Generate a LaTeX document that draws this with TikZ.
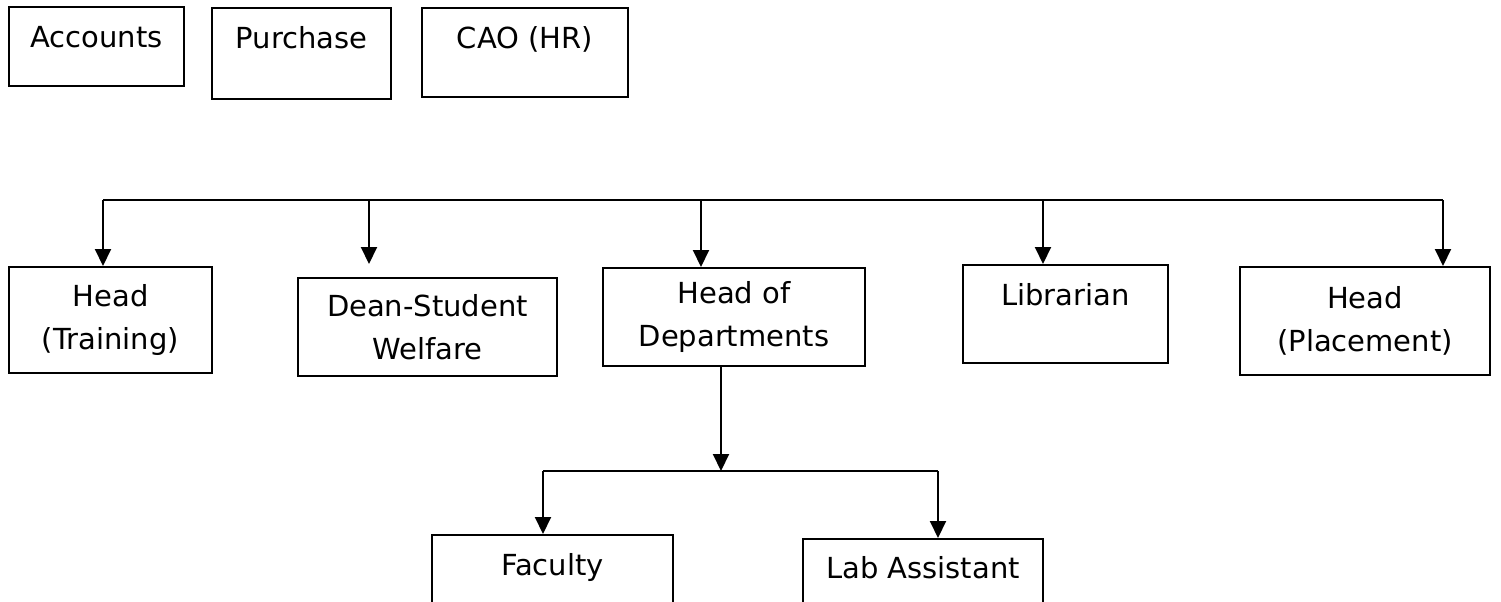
\documentclass[tikz,border=0pt]{standalone}
\usepackage{fontspec}
\setmainfont{DejaVu Sans}
\usetikzlibrary{arrows.meta}

\begin{document}
\begin{tikzpicture}[x=0.5pt,y=-0.5pt,
    box/.style={draw,line width=1pt,inner sep=0pt,align=center,
        font=\fontsize{14.5}{21.7}\selectfont},
    arr/.style={line width=1pt,-{Triangle[width=8pt,length=8.5pt]}},
    line/.style={line width=1pt}]
\clip (0,0) rectangle (1501,601);

% top row
\node[box,anchor=base,minimum width=87.5pt,text height=20pt,text depth=19.5pt] (acc) at (96.5,47) {Accounts};
\node[box,anchor=base,minimum width=89.5pt,text height=20pt,text depth=25.5pt] (pur) at (301.5,48) {Purchase};
\node[box,anchor=base,minimum width=103pt,text height=20pt,text depth=24.5pt] (cao) at (525,48) {CAO (HR)};

% middle row
\node[box,minimum width=101.5pt,minimum height=53pt] (tr) at (110.5,320) {Head\\(Training)};
\node[box,minimum width=129.5pt,minimum height=49pt] (dsw) at (427.5,327) {Dean-Student\\Welfare};
\node[box,minimum width=131pt,minimum height=49pt] (hod) at (734,317) {Head of\\Departments};
\node[box,anchor=base,minimum width=102.5pt,text height=20pt,text depth=29pt] (lib) at (1065.5,305) {Librarian};
\node[box,minimum width=125pt,minimum height=54pt] (pl) at (1365,321) {Head\\(Placement)};

% bottom row
\node[box,anchor=base,minimum width=120.5pt,text height=20pt,text depth=32.5pt] (fac) at (552.5,575) {Faculty};
\node[box,anchor=base,minimum width=120pt,text height=19.5pt,text depth=32pt] (lab) at (923,578) {Lab Assistant};

% bus
\coordinate (busL) at (103,200);
\coordinate (busR) at (1443,200);
\coordinate (b2) at (369,200);
\coordinate (b2end) at (369,264);
\coordinate (b3) at (701,200);
\coordinate (b4) at (1043,200);
\draw[line] (busL) -- (busR);
\draw[arr] (busL) -- (busL |- tr.north);
\draw[arr] (b2) -- (b2end);
\draw[arr] (b3) -- (b3 |- hod.north);
\draw[arr] (b4) -- (b4 |- lib.north);
\draw[arr] (busR) -- (busR |- pl.north);

% departments branch
\coordinate (split) at (721,471);
\coordinate (brL) at (543,471);
\coordinate (brR) at (938,471);
\draw[arr] (split |- hod.south) -- (split);
\draw[line] (brL) -- (brR);
\draw[arr] (brL) -- (brL |- fac.north);
\draw[arr] (brR) -- (brR |- lab.north);
\end{tikzpicture}
\end{document}
